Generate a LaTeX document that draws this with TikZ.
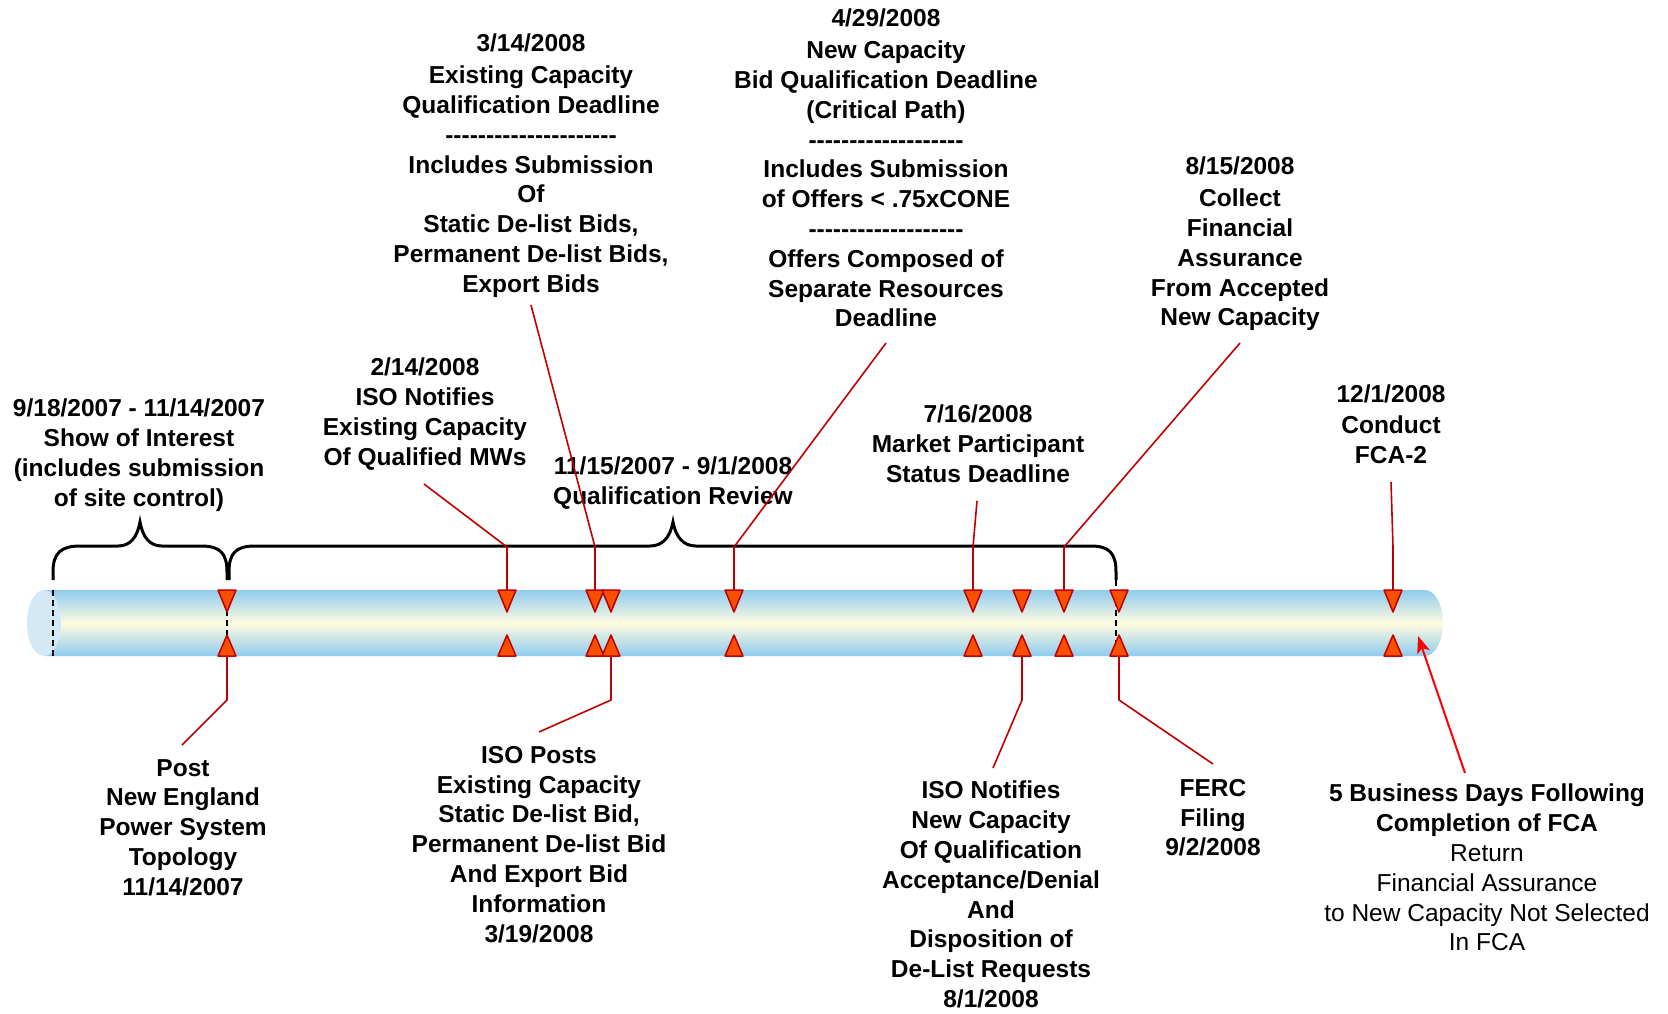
\documentclass[tikz,border=0pt]{standalone}
\usepackage{fontspec}
\setmainfont{Liberation Sans}[Ligatures=TeXOff]
\usetikzlibrary{arrows.meta}
\definecolor{barblue}{HTML}{8FCBEE}
\definecolor{barcream}{HTML}{FFFBE0}
\definecolor{capblue}{HTML}{D4E9F6}
\definecolor{trifill}{HTML}{F85000}
\definecolor{tridraw}{HTML}{C00000}
\definecolor{connred}{HTML}{C00000}
\definecolor{arrred}{HTML}{FF0000}
\begin{document}
\begin{tikzpicture}[x=1pt,y=-1pt,
  lbl/.style={align=center, anchor=north, inner sep=0pt, font=\fontsize{24.5}{29.8}\selectfont\bfseries},
  conn/.style={draw=connred, line width=1.6pt, line join=round},
  brc/.style={draw=black, line width=3pt},
  dsh/.style={draw=black, line width=2.6pt, dash pattern=on 6pt off 4pt},
  tri/.style={fill=trifill, draw=tridraw, line width=1.5pt, line join=round}]
\fill[white] (0,0) rectangle (1668,1013);
\useasboundingbox (0,0) rectangle (1668,1013);

% bar
\shade[top color=barblue,bottom color=barblue,middle color=barcream]
  (44,590) -- (1425,590) arc[start angle=-90,end angle=90,x radius=18,y radius=33] -- (44,656) -- cycle;
\fill[capblue] (44,623) ellipse[x radius=17,y radius=33];
\draw[dsh] (53,590) -- (53,656);
\draw[dsh] (227,590) -- (227,656);
\draw[dsh] (1116,580) -- (1116,656);

% braces
\draw[brc] (53,580) -- (53,572) .. controls (53,553) and (61,546) .. (80,546) -- (118,546)
  .. controls (130,546) and (137,538) .. (140,522) .. controls (143,538) and (150,546) .. (162,546)
  -- (201,546) .. controls (220,546) and (227,553) .. (227,572) -- (227,580);
\draw[brc] (229,580) -- (229,572) .. controls (229,553) and (236,546) .. (255,546) -- (650,546)
  .. controls (662,546) and (670,538) .. (673,522) .. controls (676,538) and (684,546) .. (696,546)
  -- (1091,546) .. controls (1109,546) and (1116,553) .. (1116,572) -- (1116,580);

% markers
\foreach \x [count=\i] in {227,507,595,611,734,973,1022,1064,1119,1393}{
  \draw[tri] (\x-9,590) -- (\x+9,590) -- (\x,612) -- cycle;
  \draw[tri] (\x-9,656) -- (\x+9,656) -- (\x,635) -- cycle;
  \coordinate (mt\i) at (\x,590);
  \coordinate (mb\i) at (\x,656);
}

% labels
\node[lbl] (soi) at (139,399) {9/18/2007 - 11/14/2007\\Show of Interest\\(includes submission\\of site control)};
\node[lbl] (n214) at (425,358) {2/14/2008\\ISO Notifies\\Existing Capacity\\Of Qualified MWs};
\node[lbl] (n314) at (531,34) {3/14/2008\\[2pt]Existing Capacity\\Qualification Deadline\\---------------------\\Includes Submission\\Of\\Static De-list Bids,\\Permanent De-list Bids,\\Export Bids};
\node[lbl] (n429) at (886,9) {4/29/2008\\[2pt]New Capacity\\Bid Qualification Deadline\\(Critical Path)\\-------------------\\Includes Submission\\of Offers < .75xCONE\\-------------------\\Offers Composed of\\Separate Resources\\Deadline};
\node[lbl] (qrev) at (673,457) {11/15/2007 - 9/1/2008\\Qualification Review};
\node[lbl] (n716) at (978,405) {7/16/2008\\Market Participant\\Status Deadline};
\node[lbl] (n815) at (1240,157) {8/15/2008\\[2pt]Collect\\Financial\\Assurance\\From Accepted\\New Capacity};
\node[lbl] (n121) at (1391,385) {12/1/2008\\[1pt]Conduct\\FCA-2};
\node[lbl] (post) at (183,759) {Post\\New England\\Power System\\Topology\\11/14/2007};
\node[lbl] (isop) at (539,746) {ISO Posts\\Existing Capacity\\Static De-list Bid,\\Permanent De-list Bid\\And Export Bid\\Information\\3/19/2008};
\node[lbl] (ison) at (991,781) {ISO Notifies\\New Capacity\\Of Qualification\\Acceptance/Denial\\And\\Disposition of\\De-List Requests\\8/1/2008};
\node[lbl] (ferc) at (1213,779) {FERC\\Filing\\9/2/2008};
\node[lbl] (bus5) at (1487,784) {5 Business Days Following\\Completion of FCA\\{\mdseries Return}\\{\mdseries Financial Assurance}\\{\mdseries to New Capacity Not Selected}\\{\mdseries In FCA}};

% connector ends
\coordinate (s214) at (424,484);  \coordinate (k214) at (507,547);
\coordinate (s314) at (531,305);  \coordinate (k314) at (595,547);
\coordinate (s429) at (886,343);  \coordinate (k429) at (734,547);
\coordinate (s716) at (977,501);  \coordinate (k716) at (973,547);
\coordinate (s815) at (1240,343); \coordinate (k815) at (1064,547);
\coordinate (s121) at (1391,482); \coordinate (k121) at (1393,547);
\coordinate (epost) at (182,745); \coordinate (kpost) at (227,700);
\coordinate (eisop) at (539,732); \coordinate (kisop) at (611,700);
\coordinate (eison) at (993,768); \coordinate (kison) at (1022,700);
\coordinate (eferc) at (1213,764); \coordinate (kferc) at (1119,700);
\coordinate (sbus) at (1465,773); \coordinate (ebus) at (1418,636);

\draw[conn] (s214) -- (k214) -- (mt2);
\draw[conn] (s314) -- (k314) -- (mt3);
\draw[conn] (s429) -- (k429) -- (mt5);
\draw[conn] (s716) -- (k716) -- (mt6);
\draw[conn] (s815) -- (k815) -- (mt8);
\draw[conn] (s121) -- (k121) -- (mt10);
\draw[conn] (mb1) -- (kpost) -- (epost);
\draw[conn] (mb4) -- (kisop) -- (eisop);
\draw[conn] (mb7) -- (kison) -- (eison);
\draw[conn] (mb9) -- (kferc) -- (eferc);
\draw[draw=arrred, line width=2pt, -{Stealth[length=17pt,width=13pt,inset=4pt]}] (sbus) -- (ebus);
\end{tikzpicture}
\end{document}
